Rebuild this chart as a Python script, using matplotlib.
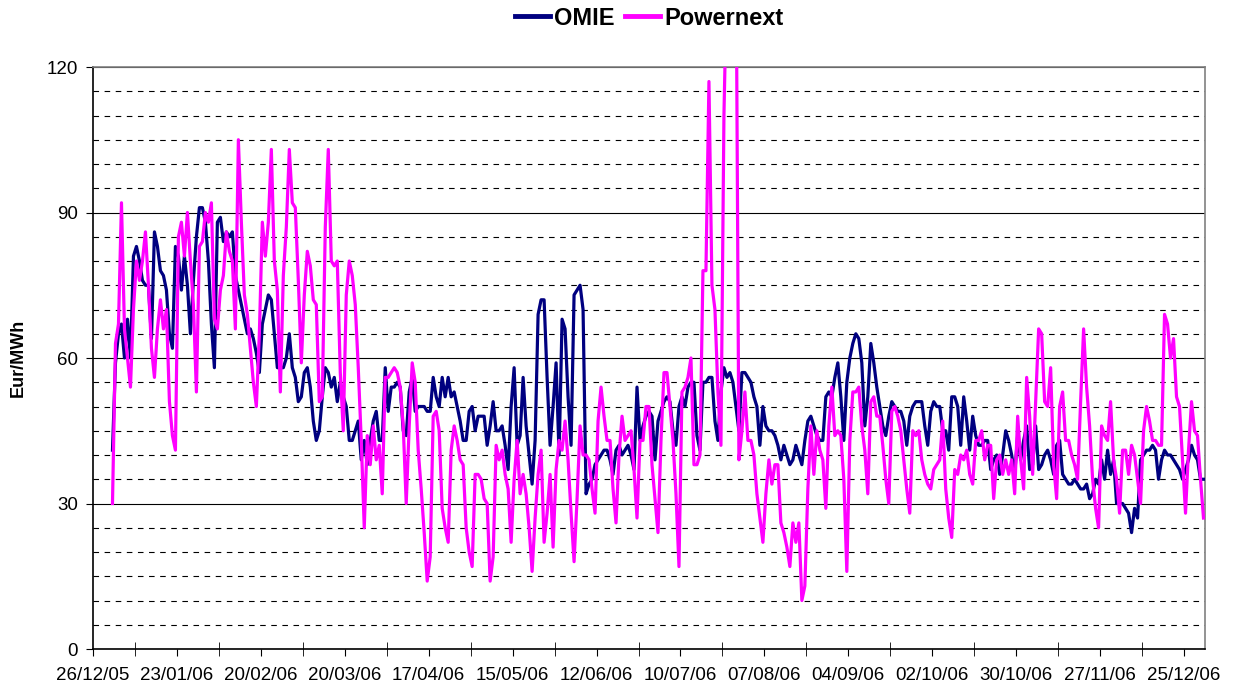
import numpy as np
import pandas as pd
import matplotlib
matplotlib.use("Agg")
import matplotlib.pyplot as plt
import matplotlib.dates as mdates

plt.rcParams['font.family'] = ['Liberation Sans', 'DejaVu Sans']

# daily prices 2006, Eur/MWh
days = pd.date_range('2006-01-01', '2006-12-31', freq='D')

omie = [
    41, 59, 65, 67, 60, 68, 60, 81, 83, 80,
    76, 75, 75, 64, 86, 83, 78, 77, 74, 65,
    62, 83, 81, 74, 81, 75, 65, 76, 85, 91,
    91, 88, 80, 67, 58, 88, 89, 84, 86, 85,
    86, 77, 74, 71, 68, 65, 66, 64, 61, 57,
    67, 70, 73, 72, 65, 58, 58, 58, 60, 65,
    58, 56, 51, 52, 57, 58, 54, 47, 43, 45,
    52, 58, 57, 54, 56, 51, 55, 52, 50, 43,
    43, 45, 47, 39, 43, 38, 43, 47, 49, 43,
    43, 58, 49, 54, 54, 55, 54, 45, 44, 53,
    56, 49, 50, 50, 50, 49, 49, 56, 52, 50,
    56, 52, 56, 52, 53, 50, 47, 43, 43, 49,
    50, 45, 48, 48, 48, 42, 46, 51, 45, 45,
    46, 42, 37, 50, 58, 42, 44, 56, 46, 40,
    34, 43, 69, 72, 72, 56, 42, 50, 59, 40,
    68, 66, 52, 42, 73, 74, 75, 70, 32, 34,
    35, 38, 39, 40, 41, 41, 39, 36, 41, 42,
    40, 41, 42, 40, 37, 54, 43, 46, 48, 49,
    48, 39, 47, 49, 51, 52, 51, 45, 42, 50,
    52, 50, 54, 55, 55, 44, 41, 55, 55, 56,
    56, 47, 43, 53, 58, 56, 57, 55, 50, 45,
    57, 57, 56, 55, 52, 50, 42, 50, 46, 45,
    45, 44, 42, 39, 42, 40, 38, 39, 42, 40,
    38, 43, 47, 48, 46, 44, 43, 43, 52, 53,
    52, 56, 59, 52, 43, 55, 60, 63, 65, 64,
    59, 46, 52, 63, 59, 54, 50, 46, 44, 48,
    51, 50, 49, 49, 47, 42, 48, 50, 51, 51,
    51, 46, 42, 49, 51, 50, 50, 45, 45, 41,
    52, 52, 50, 42, 52, 47, 41, 48, 44, 42,
    42, 43, 43, 37, 39, 40, 36, 40, 45, 43,
    40, 36, 44, 39, 43, 46, 37, 38, 46, 37,
    38, 40, 41, 39, 36, 42, 43, 36, 35, 34,
    34, 35, 34, 33, 33, 34, 31, 32, 35, 34,
    39, 35, 41, 36, 39, 30, 30, 30, 29, 28,
    24, 29, 27, 39, 40, 41, 41, 42, 41, 35,
    39, 41, 40, 40, 39, 38, 37, 35, 37, 39,
    42, 40, 39, 35, 35,
]

powernext = [
    30, 63, 67, 92, 66, 60, 54, 70, 80, 76,
    80, 86, 75, 62, 56, 66, 72, 66, 70, 51,
    44, 41, 85, 88, 81, 90, 80, 71, 53, 83,
    84, 90, 88, 92, 68, 66, 74, 77, 86, 82,
    80, 66, 105, 88, 73, 69, 62, 55, 50, 65,
    88, 81, 88, 103, 80, 74, 53, 77, 87, 103,
    92, 91, 76, 59, 73, 82, 79, 72, 71, 51,
    52, 87, 103, 80, 79, 80, 57, 45, 73, 80,
    77, 71, 58, 43, 25, 44, 38, 46, 39, 42,
    32, 56, 56, 57, 58, 57, 54, 46, 30, 46,
    59, 55, 41, 33, 24, 14, 19, 48, 49, 45,
    29, 25, 22, 41, 46, 43, 39, 38, 25, 20,
    17, 36, 36, 35, 31, 30, 14, 19, 42, 39,
    41, 36, 33, 22, 35, 43, 32, 36, 32, 25,
    16, 27, 36, 41, 22, 28, 36, 21, 37, 43,
    41, 47, 39, 28, 18, 31, 46, 40, 40, 39,
    33, 28, 47, 54, 48, 43, 43, 33, 26, 40,
    48, 43, 44, 45, 37, 27, 43, 43, 50, 50,
    38, 31, 24, 43, 57, 57, 50, 43, 32, 17,
    53, 54, 56, 60, 38, 38, 40, 78, 78, 117,
    75, 70, 53, 42, 110, 140, 165, 160, 150, 39,
    45, 53, 43, 43, 40, 32, 27, 22, 32, 39,
    34, 38, 38, 26, 24, 21, 17, 26, 22, 26,
    10, 13, 33, 46, 36, 45, 41, 39, 29, 46,
    54, 44, 45, 44, 35, 16, 43, 53, 53, 54,
    46, 41, 32, 51, 52, 48, 48, 42, 35, 30,
    49, 50, 48, 45, 39, 33, 28, 45, 44, 45,
    39, 36, 34, 33, 37, 38, 39, 47, 33, 27,
    23, 37, 36, 40, 39, 41, 36, 34, 43, 43,
    45, 39, 42, 42, 31, 39, 40, 36, 39, 36,
    39, 32, 48, 39, 33, 56, 48, 36, 51, 66,
    65, 51, 50, 58, 38, 31, 50, 53, 43, 43,
    40, 38, 35, 51, 66, 54, 46, 35, 29, 25,
    46, 44, 43, 51, 39, 35, 28, 41, 41, 36,
    42, 40, 35, 30, 45, 50, 47, 43, 43, 42,
    42, 69, 67, 60, 64, 52, 50, 39, 28, 41,
    51, 45, 44, 35, 27,
]

fig = plt.figure(figsize=(12.34, 6.89), dpi=100)
ax = fig.add_axes([93/1234, 1 - 649/689, (1205 - 93)/1234, (649 - 67)/689])

# points sit in the middle of each day, like the Excel date axis
x = days + pd.Timedelta(hours=12)
ax.plot(x, omie, color='#000080', lw=2.3, label='OMIE', zorder=3)
ax.plot(x, powernext, color='#FF00FF', lw=2.3, label='Powernext', zorder=4)

ax.set_ylim(0, 120)
ax.set_xlim(pd.Timestamp('2005-12-26'), pd.Timestamp('2007-01-01'))

# y grid: solid every 30, dashed every 5
ax.set_yticks([0, 30, 60, 90, 120])
ax.set_yticks(np.arange(0, 121, 5), minor=True)
ax.yaxis.grid(True, which='major', color='black', lw=0.8)
ax.yaxis.grid(True, which='minor', color='black', lw=0.8, linestyle=(0, (5, 5)))
ax.set_axisbelow(True)
ax.tick_params(axis='y', which='major', direction='out', length=5, labelsize=13.5, pad=6)
ax.tick_params(axis='y', which='minor', length=0)

labels = pd.date_range('2005-12-26', '2006-12-25', freq='28D')
mids = pd.date_range('2006-01-09', '2006-12-11', freq='28D')
ax.set_xticks(labels)
ax.set_xticks(mids, minor=True)
ax.xaxis.set_major_formatter(mdates.DateFormatter('%d/%m/%y'))
ax.tick_params(axis='x', which='major', direction='out', length=5, labelsize=13.5, pad=8)
ax.tick_params(axis='x', which='minor', direction='inout', length=10)

ax.spines['left'].set_color('black')
ax.spines['bottom'].set_color('black')
ax.spines['top'].set_color('#808080')
ax.spines['right'].set_color('#808080')
for s in ax.spines.values():
    s.set_linewidth(1.2)

ax.set_ylabel('Eur/MWh', fontsize=13, fontweight='bold', labelpad=14)

leg = ax.legend(loc='center', bbox_to_anchor=(0.5, 1.084), ncol=2, frameon=False,
                prop={'size': 17, 'weight': 'bold'}, handlelength=1.5,
                handletextpad=0.15, columnspacing=0.45)
for h in leg.legend_handles:
    h.set_linewidth(3.5)

fig.savefig('out.png', dpi=100)
